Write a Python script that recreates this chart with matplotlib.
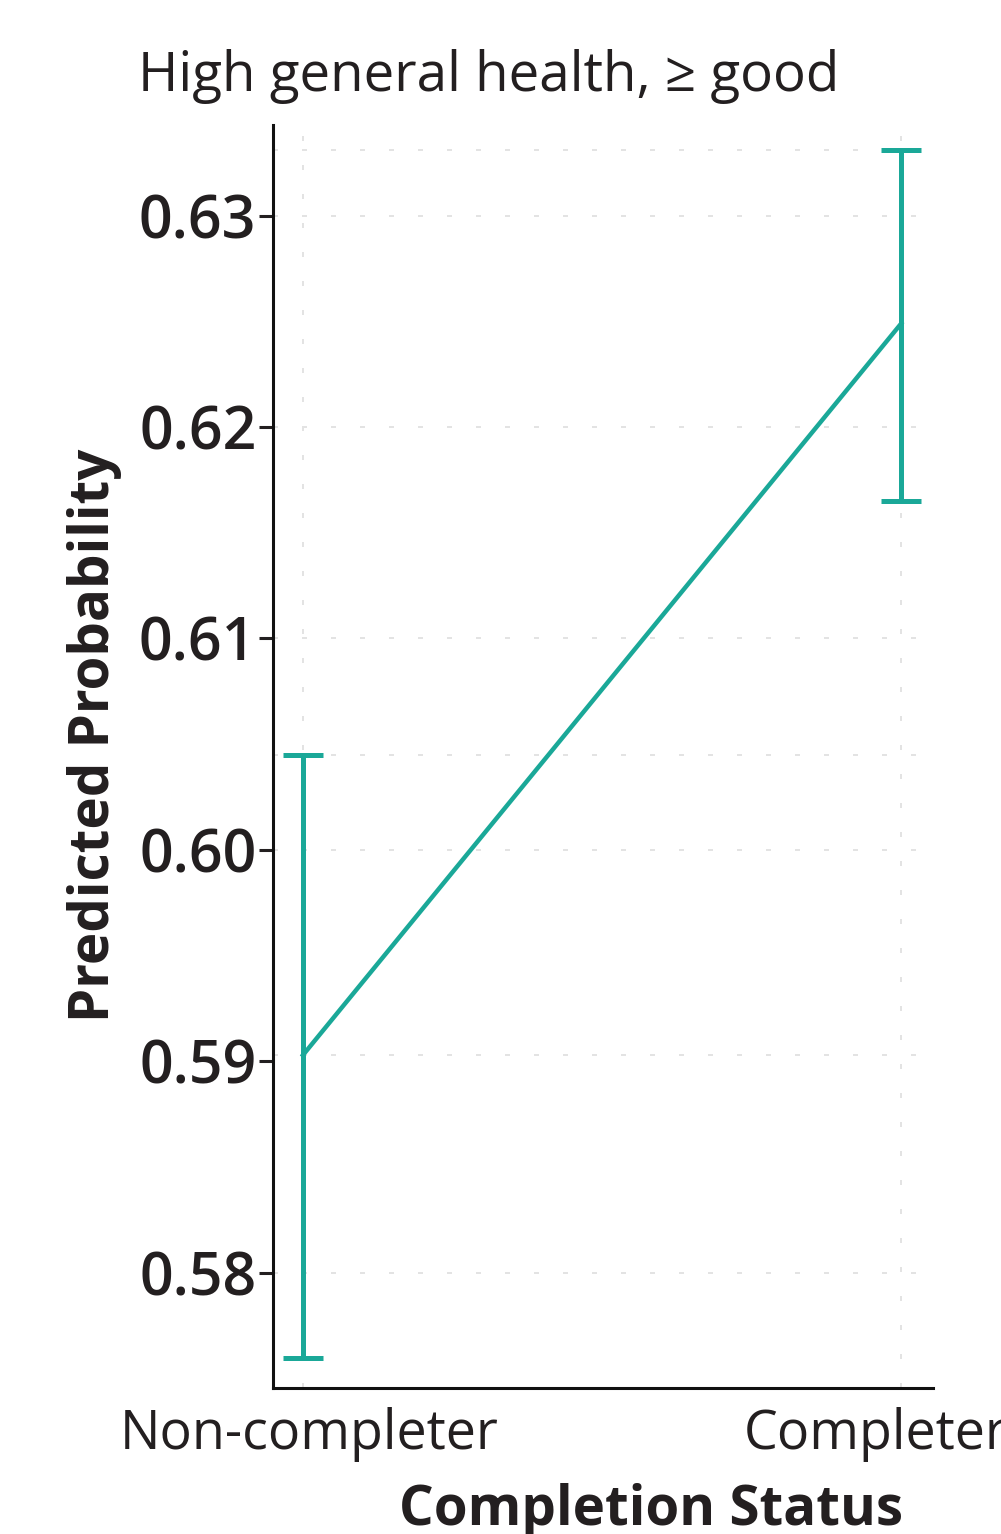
import matplotlib
matplotlib.use("Agg")
import matplotlib.pyplot as plt
from matplotlib.transforms import ScaledTranslation

# predicted probabilities with confidence interval
groups = ["Non-completer", "Completer"]
prob = [0.5903, 0.6249]
lower = [0.5760, 0.6165]
upper = [0.6045, 0.6331]
y_ticks = [0.58, 0.59, 0.60, 0.61, 0.62, 0.63]
# horizontal reference lines seen in the panel
grid_y = [0.58, 0.5903, 0.60, 0.6045, 0.61, 0.62, 0.63, 0.6331]

teal = "#1aa898"
grid_col = "#e3e3e3"
text_col = "#231f20"

plt.rcParams["font.family"] = ["Open Sans", "DejaVu Sans"]

fig = plt.figure(figsize=(10.01, 15.34), dpi=100)
ax = fig.add_axes([273 / 1001, 1 - 1388 / 1534, 660 / 1001, 1263 / 1534])

x = list(range(len(groups)))

for gy in grid_y:
    ax.axhline(gy, color=grid_col, lw=1.44, dashes=(2.5, 12), zorder=0)
for gx in x:
    ax.axvline(gx, color=grid_col, lw=1.44, dashes=(2.5, 12), zorder=0)

ax.plot(x, prob, color=teal, lw=3.2, zorder=3)
yerr = [[p - l for p, l in zip(prob, lower)], [u - p for p, u in zip(prob, upper)]]
ax.errorbar(x, prob, yerr=yerr, fmt="none", ecolor=teal, elinewidth=3.6,
            capsize=14.5, capthick=3.6, zorder=3)

ax.set_xlim(-0.05, 1.053)
ax.set_ylim(0.57456, 0.63428)
ax.set_xticks(x)
ax.set_xticklabels(groups)
ax.set_yticks(y_ticks)
ax.set_yticklabels([f"{v:.2f}" for v in y_ticks])

ax.tick_params(axis="x", length=0, pad=14, labelsize=38.7, labelcolor=text_col)
ax.tick_params(axis="y", length=10, width=2.2, pad=2, labelsize=42.5,
               labelcolor=text_col, color=text_col)
for lab in ax.get_yticklabels():
    lab.set_fontweight("semibold")

# nudge the category labels a little, as in the original
shifts = [6, -26]
for lab, dx in zip(ax.get_xticklabels(), shifts):
    lab.set_transform(lab.get_transform() + ScaledTranslation(dx / 100, 0, fig.dpi_scale_trans))

for side in ["top", "right"]:
    ax.spines[side].set_visible(False)
for side in ["left", "bottom"]:
    ax.spines[side].set_linewidth(2.2)
    ax.spines[side].set_color("#111111")

fig.text(138 / 1001, 1 - 77 / 1534, "High general health, \u2265 good",
         fontsize=39.4, color=text_col, ha="left", va="center")
fig.text(651 / 1001, 1 - 1511 / 1534, "Completion Status", fontsize=39.3,
         fontweight="bold", color=text_col, ha="center", va="center")
fig.text(95 / 1001, 1 - 735 / 1534, "Predicted Probability", fontsize=39.3,
         fontweight="bold", color=text_col, ha="center", va="center",
         rotation=90)

fig.savefig("out.png", dpi=100)
